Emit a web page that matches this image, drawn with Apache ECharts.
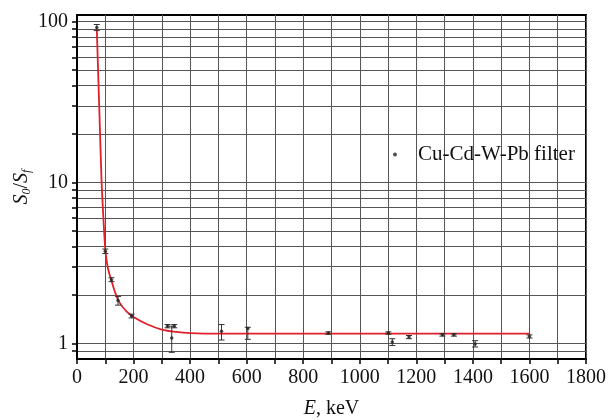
<!DOCTYPE html>
<html>
<head>
<meta charset="utf-8">
<script src="https://cdn.jsdelivr.net/npm/echarts@6/dist/echarts.min.js"></script>
<style>html,body{margin:0;padding:0;background:#fff}#c{width:608px;height:420px}</style>
</head>
<body>
<div id="c"></div>
<script>
// measured points (E in keV, ratio S0/Sf)
const energies = [70, 100, 122, 145, 193, 320, 344, 335, 511, 604, 889, 1101, 1115, 1174, 1292, 1333, 1408, 1600];
const ratios   = [92, 3.74, 2.49, 1.85, 1.48, 1.28, 1.28, 1.08, 1.19, 1.24, 1.16, 1.16, 1.02, 1.095, 1.13, 1.13, 0.99, 1.105];
const errLow   = [88, 3.62, 2.42, 1.73, 1.44, 1.25, 1.25, 0.88, 1.05, 1.06, 1.14, 1.14, 0.97, 1.07, 1.11, 1.11, 0.95, 1.08];
const errHigh  = [96, 3.86, 2.56, 1.96, 1.52, 1.31, 1.31, 1.28, 1.31, 1.26, 1.18, 1.18, 1.07, 1.12, 1.15, 1.15, 1.04, 1.13];
// fitted curve
const fitE = [70, 78, 87, 91, 95, 100, 105, 110, 116, 122, 135, 150, 175, 200, 250, 300, 350, 400, 500, 800, 1200, 1600];
const fitV = [90, 32, 10, 7.2, 5.3, 3.85, 3.25, 2.9, 2.65, 2.45, 2.07, 1.8, 1.58, 1.46, 1.31, 1.22, 1.18, 1.16, 1.15, 1.15, 1.15, 1.15];
// axis ticks
const yGridValues = [0.9, 1, 2, 3, 4, 5, 6, 7, 8, 9, 10, 20, 30, 40, 50, 60, 70, 80, 90, 100];
const yLabelValues = [1, 10, 100];
const seriesName = 'Cu-Cd-W-Pb filter';

const font = 'Liberation Serif, Times New Roman, serif';
const chart = echarts.init(document.getElementById('c'));
const pts = energies.map((e, i) => [e, ratios[i]]);
const errs = energies.map((e, i) => [e, errLow[i], errHigh[i]]);
const fit = fitE.map((e, i) => [e, fitV[i]]);

chart.setOption({
  animation: false,
  backgroundColor: '#fff',
  textStyle: { fontFamily: font },
  grid: { left: 77, right: 22, top: 15, bottom: 61, outerBoundsMode: 'none', containLabel: false,
          show: true, borderColor: '#000', borderWidth: 2, backgroundColor: 'transparent' },
  legend: {
    data: [{ name: seriesName, icon: 'circle' }],
    left: 388, top: 139, itemWidth: 4, itemHeight: 4, itemGap: 6,
    textStyle: { fontFamily: font, fontSize: 21, color: '#111', padding: [0, 0, 0, 16] }
  },
  xAxis: {
    type: 'value', min: 0, max: 1800, interval: 100,
    name: '{i|E}, keV', nameLocation: 'middle', nameGap: 40,
    nameTextStyle: { fontFamily: font, fontSize: 20, color: '#111', rich: { i: { fontStyle: 'italic', fontFamily: font, fontSize: 20 } } },
    axisLine: { lineStyle: { color: '#000', width: 2 } },
    axisTick: { length: 5, lineStyle: { color: '#000', width: 1.5 } },
    axisLabel: { fontFamily: font, fontSize: 20, color: '#111', margin: 9, formatter: v => (v % 200 === 0 ? String(v) : '') },
    splitLine: { show: true, lineStyle: { color: '#555', width: 1 } }
  },
  yAxis: {
    type: 'log', logBase: 10, min: 0.8, max: 110,
    name: '{i|S}{s|0}{n|/}{i|S}{s|f}', nameLocation: 'middle', nameGap: 44, nameMoveOverlap: false,
    nameTextStyle: { fontFamily: font, fontSize: 20, color: '#111',
      rich: { i: { fontStyle: 'italic', fontFamily: font, fontSize: 20 },
              n: { fontFamily: font, fontSize: 20 },
              s: { fontStyle: 'italic', fontFamily: font, fontSize: 12, padding: [10, 0, 0, 0] } } },
    axisLine: { lineStyle: { color: '#000', width: 2 } },
    axisTick: { length: 5, customValues: yGridValues, lineStyle: { color: '#000', width: 1.5 } },
    axisLabel: { fontFamily: font, fontSize: 20, color: '#111', margin: 9, customValues: yLabelValues },
    splitLine: { show: true, lineStyle: { color: '#555', width: 1 } },
    minorTick: { show: false }
  },
  series: [
    {
      name: 'fit', type: 'line', data: fit, smooth: 0.3, symbol: 'none',
      lineStyle: { color: '#e0202a', width: 1.8 }, z: 3
    },
    {
      name: 'err', type: 'custom', data: errs, z: 4,
      renderItem: function (params, api) {
        const x = api.value(0);
        const lo = api.coord([x, api.value(1)]);
        const hi = api.coord([x, api.value(2)]);
        const w = 3;
        const st = { stroke: '#333', lineWidth: 1 };
        return { type: 'group', children: [
          { type: 'line', shape: { x1: lo[0], y1: lo[1], x2: hi[0], y2: hi[1] }, style: st },
          { type: 'line', shape: { x1: lo[0] - w, y1: lo[1], x2: lo[0] + w, y2: lo[1] }, style: st },
          { type: 'line', shape: { x1: hi[0] - w, y1: hi[1], x2: hi[0] + w, y2: hi[1] }, style: st }
        ] };
      }
    },
    {
      name: seriesName, type: 'scatter', data: pts, symbol: 'circle', symbolSize: 3.5,
      itemStyle: { color: '#222' }, z: 5
    }
  ]
});
</script>
</body>
</html>
